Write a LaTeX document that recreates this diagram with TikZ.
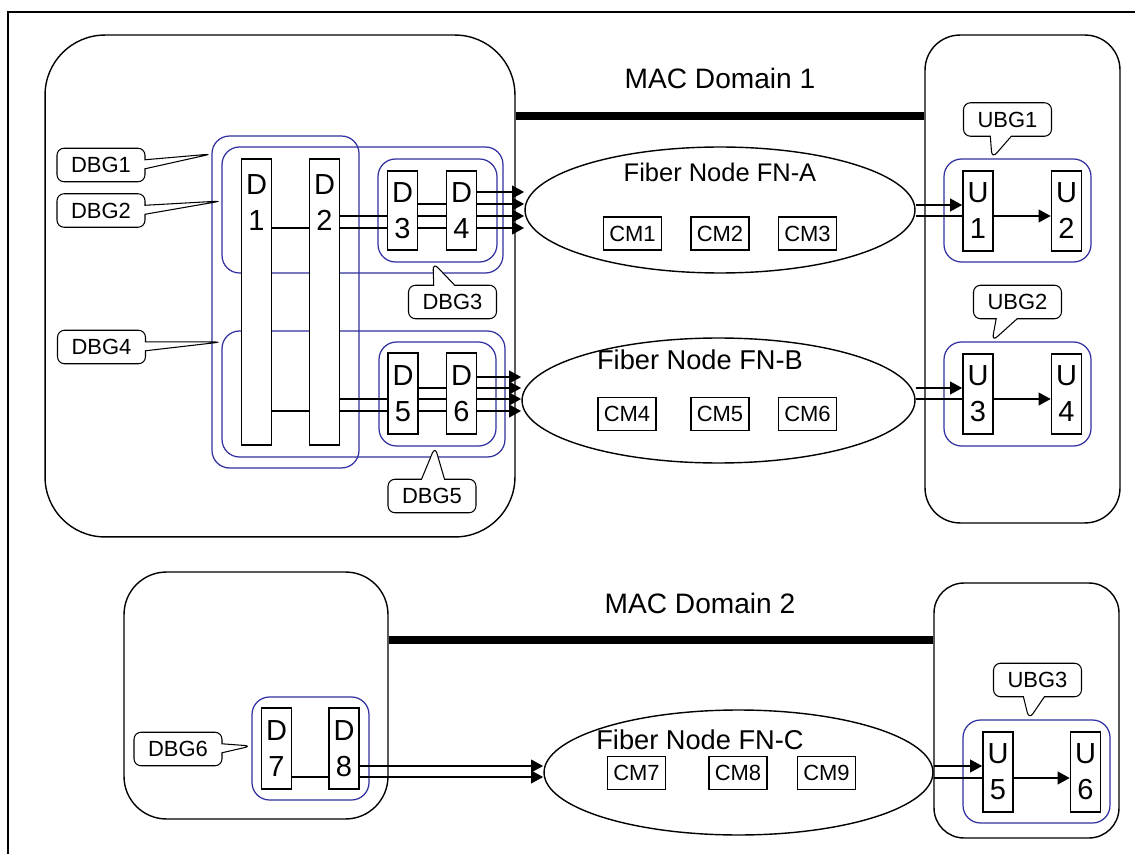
\documentclass[tikz,border=0pt]{standalone}
\usepackage{fontspec}
\setmainfont{Liberation Sans}
\usetikzlibrary{positioning, arrows.meta, shapes.geometric, shapes.callouts}
\definecolor{grpblue}{RGB}{48,48,160}

\tikzset{
    region/.style={draw, line width=0.8pt, rounded corners=#1, inner sep=0pt},
    group/.style={draw=grpblue, line width=0.7pt, rounded corners=0.35cm, inner sep=0pt},
    chan/.style={draw, fill=white, line width=0.7pt, minimum width=0.6cm, inner sep=0pt, align=center, font=\fontsize{16.5}{20.5}\selectfont},
    chantext/.style={align=center, inner sep=0pt, font=\fontsize{16.5}{20.5}\selectfont},
    cmbox/.style={draw, line width=0.6pt, minimum width=1.16cm, minimum height=0.66cm, inner sep=0pt, font=\fontsize{12.5}{15}\selectfont},
    fiber/.style={draw, ellipse, line width=0.8pt, inner sep=0pt},
    tag/.style={rectangle callout, draw, fill=white, line width=0.6pt, rounded corners=4pt, minimum width=1.76cm, minimum height=0.67cm, inner sep=0pt, font=\fontsize{12.5}{15}\selectfont},
    macline/.style={line width=4pt},
    link/.style={line width=1.7pt},
    flow/.style={line width=1.7pt, -{Triangle[length=7pt,width=7pt]}},
}

\begin{document}
\begin{tikzpicture}[x=0.02cm, y=-0.02cm]
    \useasboundingbox (0,0) rectangle (1135,854);
    % Frame
    \draw[line width=1.3pt] (8,854) -- (8,12) -- (1135,12);

    % MAC Domain 1
    \node[region=1.2cm, minimum width=9.4cm, minimum height=10.04cm] (cmtsA) at (280,286) {};
    \node[region=0.7cm, minimum width=3.9cm, minimum height=9.76cm] (usA) at (1022.5,279) {};
    \draw[macline] (cmtsA.east |- 0,116) -- (usA.west |- 0,116);
    \node[font=\fontsize{16}{19}\selectfont] (mac1) at (720,78) {MAC Domain 1};

    % Downstream bonding groups
    \node[group, minimum width=2.94cm, minimum height=6.64cm] (DBG1) at (285.5,302) {};
    \node[group, minimum width=5.62cm, minimum height=2.52cm] (DBG2) at (362.5,210) {};
    \node[group, minimum width=2.38cm, minimum height=2.06cm] (DBG3) at (437.5,210.5) {};
    \node[group, minimum width=5.66cm, minimum height=2.52cm] (DBG4) at (363.5,394) {};
    \node[group, minimum width=2.34cm, minimum height=2.08cm] (DBG5) at (437.5,394) {};

    % Downstream channels
    \node[chan, minimum height=5.72cm] (D1) at (256.5,302) {};
    \node[chan, minimum height=5.72cm] (D2) at (324.5,302) {};
    \node[chantext, below=0.32cm of D1.north] {D\\1};
    \node[chantext, below=0.32cm of D2.north] {D\\2};
    \node[chan, minimum height=1.58cm] (D3) at (402.5,210.5) {D\\3};
    \node[chan, minimum height=1.58cm] (D4) at (461.5,210.5) {D\\4};
    \node[chan, minimum height=1.62cm] (D5) at (403,393.5) {D\\5};
    \node[chan, minimum height=1.62cm] (D6) at (461.5,393.5) {D\\6};

    % Fiber nodes
    \node[fiber, minimum width=7.8cm, minimum height=2.52cm] (FNA) at (720,210) {};
    \node[font=\fontsize{14.5}{17}\selectfont] at (720,172) {Fiber Node FN-A};
    \node[cmbox] (CM1) at (632.5,233.5) {CM1};
    \node[cmbox] (CM2) at (720,233.5) {CM2};
    \node[cmbox] (CM3) at (807.5,233.5) {CM3};
    \node[fiber, minimum width=7.86cm, minimum height=2.5cm] (FNB) at (718.5,400.5) {};
    \node[font=\fontsize{15.5}{18}\selectfont] at (700,360) {Fiber Node FN-B};
    \node[cmbox] (CM4) at (627,414) {CM4};
    \node[cmbox] (CM5) at (720,414) {CM5};
    \node[cmbox] (CM6) at (807.5,414) {CM6};

    % Channel links
    \draw[link] (D1.east |- 0,228) -- (D2.west |- 0,228);
    \foreach \y in {216,228} \draw[link] (D2.east |- 0,\y) -- (D3.west |- 0,\y);
    \foreach \y in {204,216,228} \draw[link] (D3.east |- 0,\y) -- (D4.west |- 0,\y);
    \foreach \y in {192,204,216,228} \draw[flow] (D4.east |- 0,\y) -- (FNA.west |- 0,\y);
    \draw[link] (D1.east |- 0,411) -- (D2.west |- 0,411);
    \foreach \y in {399,411} \draw[link] (D2.east |- 0,\y) -- (D5.west |- 0,\y);
    \foreach \y in {388,399,411} \draw[link] (D5.east |- 0,\y) -- (D6.west |- 0,\y);
    \foreach \y in {377,388,399,411} \draw[flow] (D6.east |- 0,\y) -- (FNB.west |- 0,\y);

    % Upstream
    \node[group, minimum width=2.94cm, minimum height=2.06cm] (UBG1) at (1017.5,210.5) {};
    \node[group, minimum width=2.94cm, minimum height=2.08cm] (UBG2) at (1017.5,394) {};
    \node[chan, minimum height=1.6cm] (U1) at (978,211) {U\\1};
    \node[chan, minimum height=1.6cm] (U2) at (1066.5,211) {U\\2};
    \node[chan, minimum height=1.6cm] (U3) at (978,394) {U\\3};
    \node[chan, minimum height=1.6cm] (U4) at (1066.5,394) {U\\4};
    \draw[flow] (FNA.east |- 0,205) -- (U1.west |- 0,205);
    \draw[link] (FNA.east |- 0,216) -- (U1.west |- 0,216);
    \draw[flow] (U1.east |- 0,216) -- (U2.west |- 0,216);
    \draw[flow] (FNB.east |- 0,388) -- (U3.west |- 0,388);
    \draw[link] (FNB.east |- 0,399) -- (U3.west |- 0,399);
    \draw[flow] (U3.east |- 0,399) -- (U4.west |- 0,399);

    % Labels
    \node[tag, callout absolute pointer={(DBG1.west |- 0,154)}, callout pointer width=0.18cm] at (101,165) {DBG1};
    \node[tag, callout absolute pointer={(DBG2.west |- 0,201)}, callout pointer width=0.18cm] at (101,210.5) {DBG2};
    \node[tag, callout absolute pointer={(DBG4.west |- 0,342)}, callout pointer width=0.18cm] at (101.5,347) {DBG4};
    \node[tag, callout absolute pointer={(DBG3.south -| 433,0)}, callout pointer width=0.42cm] at (452.5,302) {DBG3};
    \node[tag, callout absolute pointer={(DBG5.south -| 435,0)}, callout pointer width=0.46cm] at (432,496) {DBG5};
    \node[tag, callout absolute pointer={(UBG1.north -| 992,0)}, callout pointer width=0.42cm] at (1007.5,119.5) {UBG1};
    \node[tag, callout absolute pointer={(UBG2.north -| 992,0)}, callout pointer width=0.42cm] at (1017.5,302) {UBG2};

    % MAC Domain 2
    \node[region=0.85cm, minimum width=5.28cm, minimum height=4.94cm] (cmtsC) at (256,695.5) {};
    \node[region=0.6cm, minimum width=3.7cm, minimum height=5.1cm] (usC) at (1026.5,710.5) {};
    \draw[macline] (cmtsC.east |- 0,640) -- (usC.west |- 0,640);
    \node[font=\fontsize{16}{19}\selectfont] (mac2) at (700,603) {MAC Domain 2};

    \node[group, minimum width=2.34cm, minimum height=2.06cm] (DBG6) at (310.5,748.5) {};
    \node[chan, minimum height=1.62cm] (D7) at (276.5,748.5) {D\\7};
    \node[chan, minimum height=1.62cm] (D8) at (344,748.5) {D\\8};

    \node[fiber, minimum width=7.78cm, minimum height=2.5cm] (FNC) at (738.5,772.5) {};
    \node[font=\fontsize{15.5}{18}\selectfont] at (700,740) {Fiber Node FN-C};
    \node[cmbox] (CM7) at (636.5,773) {CM7};
    \node[cmbox] (CM8) at (738,773) {CM8};
    \node[cmbox] (CM9) at (826.5,773) {CM9};

    \draw[link] (D7.east |- 0,777) -- (D8.west |- 0,777);
    \foreach \y in {766,777} \draw[flow] (D8.east |- 0,\y) -- (FNC.west |- 0,\y);

    \node[group, minimum width=2.94cm, minimum height=2.06cm] (UBG3) at (1036.5,771.5) {};
    \node[chan, minimum height=1.6cm] (U5) at (998,772) {U\\5};
    \node[chan, minimum height=1.6cm] (U6) at (1085.5,772) {U\\6};
    \draw[flow] (FNC.east |- 0,766) -- (U5.west |- 0,766);
    \draw[link] (FNC.east |- 0,778) -- (U5.west |- 0,778);
    \draw[flow] (U5.east |- 0,778) -- (U6.west |- 0,778);

    \node[tag, callout absolute pointer={(DBG6.west |- 0,746)}, callout pointer width=0.18cm] at (178,749) {DBG6};
    \node[tag, callout absolute pointer={(UBG3.north -| 1029,0)}, callout pointer width=0.42cm] at (1037.5,680) {UBG3};
\end{tikzpicture}
\end{document}
